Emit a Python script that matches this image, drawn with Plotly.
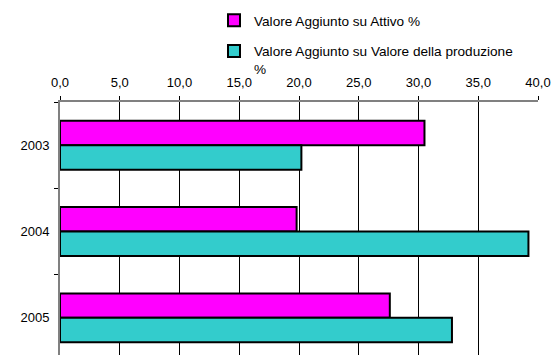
import plotly.graph_objects as go

years = ['2003', '2004', '2005']
attivo = [30.5, 19.8, 27.6]
produzione = [20.2, 39.2, 32.8]
tick_vals = [0, 5, 10, 15, 20, 25, 30, 35, 40]

font_name = 'Liberation Sans, Arial, sans-serif'

fig = go.Figure()
fig.add_trace(go.Bar(
    y=years, x=attivo, orientation='h',
    name='Valore Aggiunto su Attivo %',
    legendgroup='a',
    marker=dict(color='#FF00FF', line=dict(color='#000000', width=2)),
))
fig.add_trace(go.Bar(
    y=years, x=produzione, orientation='h',
    name='Valore Aggiunto su Valore della produzione<br>%',
    legendgroup='b',
    marker=dict(color='#33CCCC', line=dict(color='#000000', width=2)),
))

fig.update_layout(
    width=552, height=355,
    margin=dict(l=60, r=14, t=102, b=0, autoexpand=False),
    paper_bgcolor='white', plot_bgcolor='white',
    font=dict(family=font_name, size=13, color='#000000'),
    separators=',.',
    barmode='group',
    bargap=0.433, bargroupgap=0,
    showlegend=True,
    legend=dict(
        x=(214 - 60) / 478, y=1 + (102 - 5) / 253, xanchor='left', yanchor='top',
        traceorder='grouped', tracegroupgap=10,
        valign='top', bgcolor='rgba(0,0,0,0)',
        font=dict(family=font_name, size=13.6),
        itemwidth=30,
    ),
    xaxis=dict(
        side='top', range=[0, 40], tickvals=tick_vals, tickformat='.1f',
        showgrid=True, gridcolor='#000000', gridwidth=1,
        showline=True, linecolor='#808080', linewidth=2,
        ticks='outside', ticklen=4, tickcolor='#000000',
        ticklabelstandoff=4, ticklabeloverflow='allow',
        zeroline=False, fixedrange=True,
    ),
    yaxis=dict(
        type='category', range=[2.43, -0.5],
        tickson='boundaries', ticks='outside', ticklen=4, tickcolor='#000000',
        ticklabelstandoff=6,
        showline=True, linecolor='#808080', linewidth=2,
        showgrid=False, zeroline=False, fixedrange=True,
    ),
)

# drop the default page margin so the figure fills the window exactly
fig.write_html('out.html', config={'displayModeBar': False},
               post_script="document.body.style.margin='0';")
